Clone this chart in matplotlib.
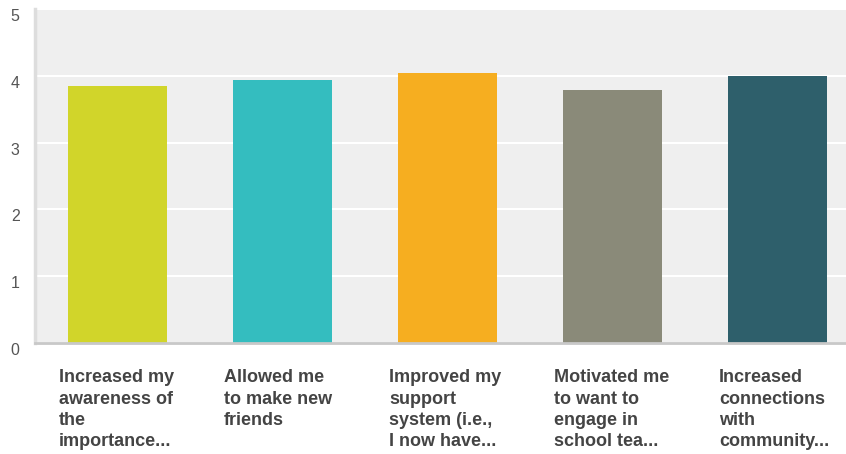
import matplotlib.pyplot as plt
from matplotlib.transforms import ScaledTranslation

plt.rcParams['font.family'] = ['Liberation Sans', 'DejaVu Sans']

# average rating per statement
labels = [
    "Increased my\nawareness of\nthe\nimportance...",
    "Allowed me\nto make new\nfriends",
    "Improved my\nsupport\nsystem (i.e.,\nI now have...",
    "Motivated me\nto want to\nengage in\nschool tea...",
    "Increased\nconnections\nwith\ncommunity...",
]
values = [3.85, 3.94, 4.04, 3.79, 3.99]
colors = ["#d1d52a", "#34bdbf", "#f6ae20", "#8a8a79", "#2e5f6b"]

fig = plt.figure(figsize=(8.46, 4.54), dpi=100)
ax = fig.add_axes([35 / 846, 111 / 454, 1 - 35 / 846, 334 / 454])
ax.set_facecolor("#efefef")

x = range(len(values))
ax.bar(x, values, width=0.6, color=colors, zorder=3)

ax.set_ylim(0, 5)
ax.set_xlim(-0.5, 4.415)
ax.set_yticks(range(6))
ax.yaxis.grid(True, color="white", linewidth=1.5, zorder=1)
ax.set_xticks([])
ax.tick_params(axis="y", length=0, pad=11, labelsize=11.5, labelcolor="#555555")

# y labels sit a little below their gridlines
shift = ScaledTranslation(0, -6 / 100, fig.dpi_scale_trans)
for t in ax.get_yticklabels():
    t.set_transform(t.get_transform() + shift)

for side in ["top", "right"]:
    ax.spines[side].set_visible(False)
ax.spines["left"].set_color("#dddddd")
ax.spines["left"].set_linewidth(2.5)
ax.spines["bottom"].set_color("#c8c8c8")
ax.spines["bottom"].set_linewidth(2)
ax.spines["bottom"].set_zorder(4)

# wrapped category labels under each bar
for i, lab in enumerate(labels):
    ax.text(i - 0.355, -0.079, lab, transform=ax.get_xaxis_transform(),
            ha="left", va="top", fontsize=13, fontweight="bold",
            color="#444444", linespacing=1.32)

fig.savefig("out.png", dpi=100)
